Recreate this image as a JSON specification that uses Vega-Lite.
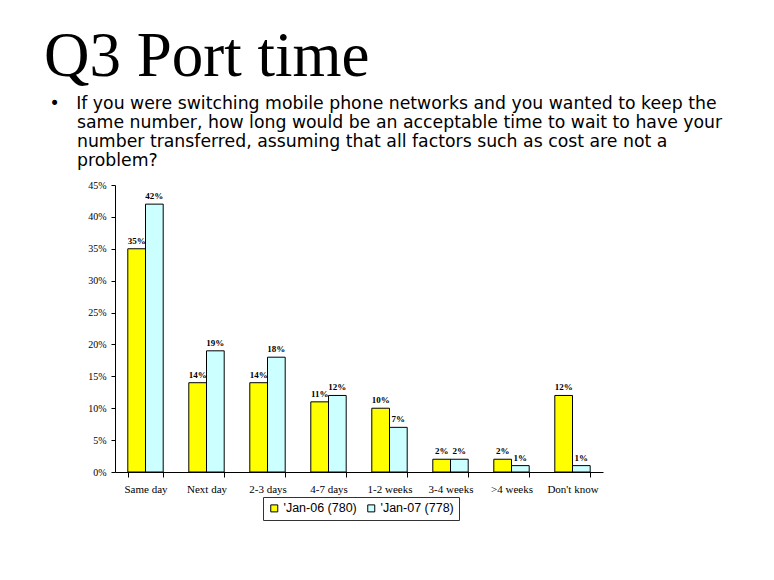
{
  "$schema": "https://vega.github.io/schema/vega-lite/v6.json",
  "width": 488,
  "height": 287,
  "autosize": {"type": "none"},
  "padding": {"left": 115, "top": 185, "right": 171, "bottom": 108},
  "background": "white",
  "config": {"view": {"stroke": null}},
  "title": {
    "text": "Q3 Port time",
    "subtitle": [
      "\u200b\u00a0•\u00a0\u00a0\u00a0If you were switching mobile phone networks and you wanted to keep the",
      "\u200b\u00a0\u00a0\u00a0\u00a0\u00a0\u00a0same number, how long would be an acceptable time  to wait to have your",
      "\u200b\u00a0\u00a0\u00a0\u00a0\u00a0\u00a0number transferred, assuming that all factors such as cost are not a",
      "\u200b\u00a0\u00a0\u00a0\u00a0\u00a0\u00a0problem?"
    ],
    "anchor": "start",
    "frame": "group",
    "dx": -71,
    "offset": 11,
    "font": "Liberation Serif",
    "fontSize": 63,
    "fontWeight": "normal",
    "color": "black",
    "subtitleFont": "DejaVu Sans",
    "subtitleFontSize": 17.3,
    "subtitleColor": "black",
    "subtitleLineHeight": 19,
    "subtitlePadding": 6
  },
  "data": {
    "values": [
      {"cat": "Same day", "series": "'Jan-06 (780)", "value": 0.35},
      {"cat": "Same day", "series": "'Jan-07 (778)", "value": 0.42},
      {"cat": "Next day", "series": "'Jan-06 (780)", "value": 0.14},
      {"cat": "Next day", "series": "'Jan-07 (778)", "value": 0.19},
      {"cat": "2-3 days", "series": "'Jan-06 (780)", "value": 0.14},
      {"cat": "2-3 days", "series": "'Jan-07 (778)", "value": 0.18},
      {"cat": "4-7 days", "series": "'Jan-06 (780)", "value": 0.11},
      {"cat": "4-7 days", "series": "'Jan-07 (778)", "value": 0.12},
      {"cat": "1-2 weeks", "series": "'Jan-06 (780)", "value": 0.10},
      {"cat": "1-2 weeks", "series": "'Jan-07 (778)", "value": 0.07},
      {"cat": "3-4 weeks", "series": "'Jan-06 (780)", "value": 0.02},
      {"cat": "3-4 weeks", "series": "'Jan-07 (778)", "value": 0.02},
      {"cat": ">4 weeks", "series": "'Jan-06 (780)", "value": 0.02},
      {"cat": ">4 weeks", "series": "'Jan-07 (778)", "value": 0.01},
      {"cat": "Don't know", "series": "'Jan-06 (780)", "value": 0.12},
      {"cat": "Don't know", "series": "'Jan-07 (778)", "value": 0.01}
    ]
  },
  "encoding": {
    "x": {
      "field": "cat",
      "type": "nominal",
      "sort": null,
      "scale": {"paddingInner": 0.42, "paddingOuter": 0.21},
      "axis": {
        "title": null,
        "labelAngle": 0,
        "labelFont": "Liberation Serif",
        "labelFontSize": 11,
        "labelColor": "black",
        "labelPadding": 6,
        "domainColor": "black",
        "tickColor": "black",
        "tickSize": 5,
        "tickBand": "extent"
      }
    },
    "xOffset": {"field": "series", "type": "nominal", "sort": null},
    "y": {
      "field": "value",
      "type": "quantitative",
      "scale": {"domain": [0, 0.45]},
      "axis": {
        "title": null,
        "grid": false,
        "format": ".0%",
        "values": [0, 0.05, 0.1, 0.15, 0.2, 0.25, 0.3, 0.35, 0.4, 0.45],
        "labelFont": "Liberation Serif",
        "labelFontSize": 10,
        "labelColor": "black",
        "labelPadding": 5,
        "domainColor": "black",
        "tickColor": "black",
        "tickSize": 4
      }
    }
  },
  "layer": [
    {
      "mark": {"type": "bar", "stroke": "black", "strokeWidth": 1, "opacity": 1},
      "encoding": {
        "color": {
          "field": "series",
          "type": "nominal",
          "sort": null,
          "scale": {"domain": ["'Jan-06 (780)", "'Jan-07 (778)"], "range": ["#FFFF00", "#CCFFFF"]},
          "legend": {
            "orient": "none",
            "legendX": 148,
            "legendY": 312,
            "direction": "horizontal",
            "title": null,
            "strokeColor": "#333333",
            "padding": 5,
            "symbolType": "square",
            "symbolSize": 49,
            "symbolStrokeColor": "black",
            "symbolStrokeWidth": 1,
            "symbolOpacity": 1,
            "labelFont": "Liberation Sans",
            "labelFontSize": 12.5,
            "labelColor": "black",
            "columnPadding": 8,
            "labelOffset": 3
          }
        }
      }
    },
    {
      "mark": {"type": "text", "dy": -5, "baseline": "alphabetic", "font": "Liberation Serif", "fontWeight": "bold", "fontSize": 9, "color": "black"},
      "encoding": {
        "text": {"field": "value", "type": "quantitative", "format": ".0%"}
      }
    }
  ]
}
